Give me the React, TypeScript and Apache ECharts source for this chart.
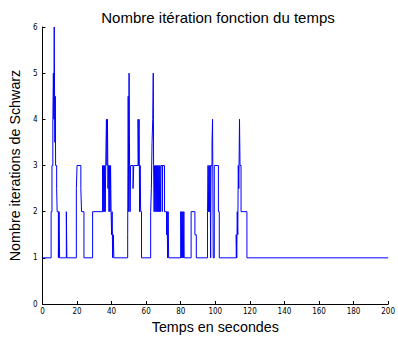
import React, { useEffect, useRef } from "react";
import * as echarts from "echarts";

// change points: value holds from time T[i] until T[i+1]
const T: number[] = [
  0,
  5.0, 5.5, 6.0, 6.3, 6.6, 6.8, 7.0, 7.2, 7.4, 7.6, 8.2, 8.5, 9.2, 9.6, 9.9,
  13.8, 14.1,
  19.6, 20.0, 22.2, 22.6, 24.0,
  29.0,
  34.8, 35.1, 35.4, 35.7, 36.0, 36.3, 36.6, 37.0, 37.3, 37.6, 37.9, 38.2, 38.5, 38.8, 39.1, 39.4, 39.7, 40.0, 40.3, 40.6, 41.0, 41.3,
  49.3, 49.6, 49.9, 50.1, 50.4, 50.7, 51.0, 52.4, 52.8, 55.3, 55.6, 55.9, 56.2, 56.5, 56.8, 57.3,
  62.6, 63.0, 63.4, 63.8, 64.1, 64.3, 64.6, 64.9, 65.2, 65.5, 65.8, 66.1, 66.4, 66.7, 67.0, 67.3, 67.6, 67.9, 68.2, 68.5, 69.3, 69.5, 70.6, 71.8, 72.1, 72.4, 72.7, 73.0,
  80.0, 80.3, 80.6, 80.9, 81.2, 81.5, 81.8, 82.0,
  86.0, 88.2, 89.0,
  95.5, 95.8, 96.1, 96.4, 96.7, 97.0, 97.3, 97.5, 98.1, 98.4, 98.8, 99.4, 101.8, 102.3,
  112.1, 112.4, 112.7, 113.0, 113.3, 113.6, 114.0, 114.3, 114.9, 118.3,
  200,
];
const V: number[] = [
  1,
  2, 3, 4, 5, 4, 6, 4.5, 3.5, 4.5, 3, 2.5, 2, 1, 2, 1,
  2, 1,
  2.5, 3, 2.5, 2, 1,
  2,
  3, 2, 3, 2, 3, 2, 3, 4, 3, 4, 2.5, 3, 2, 3, 2, 3, 2, 1.5, 2, 1, 1.5, 1,
  1.5, 4.5, 2, 5, 3, 2, 3, 2.5, 3, 4, 3, 4, 2, 3, 2, 1,
  2, 2.5, 3.5, 4, 5, 3, 2, 3, 2, 3, 2, 3, 2, 3, 2, 3, 2, 3, 2, 3, 2, 3, 2, 1.5, 2, 1, 2, 1,
  2, 1, 2, 1, 2, 1, 2, 1,
  2, 1.5, 1,
  2, 3, 2, 3, 2, 3, 1, 3, 3.5, 4, 1, 3, 2, 1,
  1.5, 1, 2, 1.5, 3, 2.5, 4, 3, 2, 1,
  1,
];

const TITLE = "Nombre itération fonction du temps";
const X_NAME = "Temps en secondes";
const Y_NAME = "Nombre iterations de Schwarz";

export default function App() {
  const ref = useRef<HTMLDivElement>(null);
  useEffect(() => {
    if (!ref.current) return;
    const chart = echarts.init(ref.current, undefined, { renderer: "svg" });
    const font = "Liberation Sans, Arial, sans-serif";
    const axisCommon = {
      axisLine: { show: true, lineStyle: { color: "#000", width: 1 } },
      axisTick: { show: true, inside: true, length: 3, lineStyle: { color: "#000" } },
      splitLine: { show: false },
      axisLabel: { color: "#000", fontSize: 8, fontFamily: "DejaVu Sans Condensed, Liberation Sans Narrow, sans-serif" },
      nameTextStyle: { color: "#000", fontSize: 14.3, fontFamily: font },
    };
    chart.setOption({
      animation: false,
      backgroundColor: "#fff",
      title: {
        text: TITLE,
        left: 213,
        textAlign: "center",
        top: 5,
        textStyle: { fontSize: 15, fontWeight: "normal", color: "#000", fontFamily: font },
      },
      grid: { left: 40, right: 5, top: 27, bottom: 36, containLabel: false },
      xAxis: {
        type: "value",
        min: 0,
        max: 200,
        interval: 20,
        name: X_NAME,
        nameLocation: "middle",
        nameGap: 15,
        ...axisCommon,
        axisLabel: { ...axisCommon.axisLabel, margin: 3 },
      },
      yAxis: {
        type: "value",
        min: 0,
        max: 6,
        interval: 1,
        name: Y_NAME,
        nameLocation: "middle",
        nameGap: 16,
        ...axisCommon,
        axisLabel: { ...axisCommon.axisLabel, margin: 5 },
      },
      series: [
        {
          type: "line",
          step: "end",
          showSymbol: false,
          symbol: "none",
          data: T.map((t, i) => [t, V[i]]),
          lineStyle: { color: "#0000ff", width: 1 },
          itemStyle: { color: "#0000ff" },
        },
      ],
    });
    return () => chart.dispose();
  }, []);
  return <div ref={ref} style={{ width: 398, height: 340, position: "absolute", left: 0, top: 0 }} />;
}
